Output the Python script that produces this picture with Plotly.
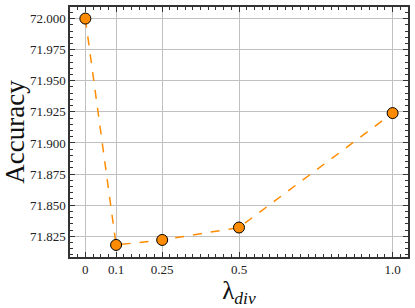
import plotly.graph_objects as go

lambda_div = [0, 0.1, 0.25, 0.5, 1.0]
accuracy = [72.000, 71.818, 71.822, 71.832, 71.924]
x_ticks = [0, 0.1, 0.25, 0.5, 1.0]
x_tick_labels = ["0", "0.1", "0.25", "0.5", "1.0"]
y_ticks = [71.825, 71.850, 71.875, 71.900, 71.925, 71.950, 71.975, 72.000]
y_tick_labels = ["%.3f" % v for v in y_ticks]

fig = go.Figure()
fig.add_trace(go.Scatter(
    x=lambda_div, y=accuracy, mode="lines+markers",
    line=dict(color="#ff8c00", width=1.5, dash="dash"),
    marker=dict(size=11, color="#ff8c00", line=dict(color="black", width=1)),
    showlegend=False,
))

axis_common = dict(
    showline=True, linecolor="#333", linewidth=1.5, mirror="allticks",
    ticks="inside", ticklen=5, tickcolor="#333", tickwidth=1,
    showgrid=True, gridcolor="#c0c0c0", gridwidth=1.4, zeroline=False,
    tickfont=dict(family="Liberation Serif", size=13, color="#222"),
)

fig.update_xaxes(
    range=[-0.05, 1.05], tickmode="array", tickvals=x_ticks, ticktext=x_tick_labels,
    minor=dict(tickmode="linear", tick0=0, dtick=0.025, ticks="inside", ticklen=3, tickcolor="#333", showgrid=False),
    title=dict(text="λ<sub><i>div</i></sub>", font=dict(family="Liberation Serif", size=25, color="#111"), standoff=2),
    **axis_common,
)
fig.update_yaxes(
    range=[71.8083, 72.0093], tickmode="array", tickvals=y_ticks, ticktext=y_tick_labels,
    minor=dict(tickmode="linear", tick0=71.8, dtick=0.005, ticks="inside", ticklen=3, tickcolor="#333", showgrid=False),
    title=dict(text="Accuracy", font=dict(family="Liberation Serif", size=27, color="#111"), standoff=4),
    **axis_common,
)

fig.update_layout(
    width=415, height=308,
    margin=dict(l=70, r=5, t=5, b=51),
    plot_bgcolor="white", paper_bgcolor="white",
)

fig.write_html("out.html", config={"displayModeBar": False},
               post_script="document.body.style.margin='0';document.body.style.padding='0';")
